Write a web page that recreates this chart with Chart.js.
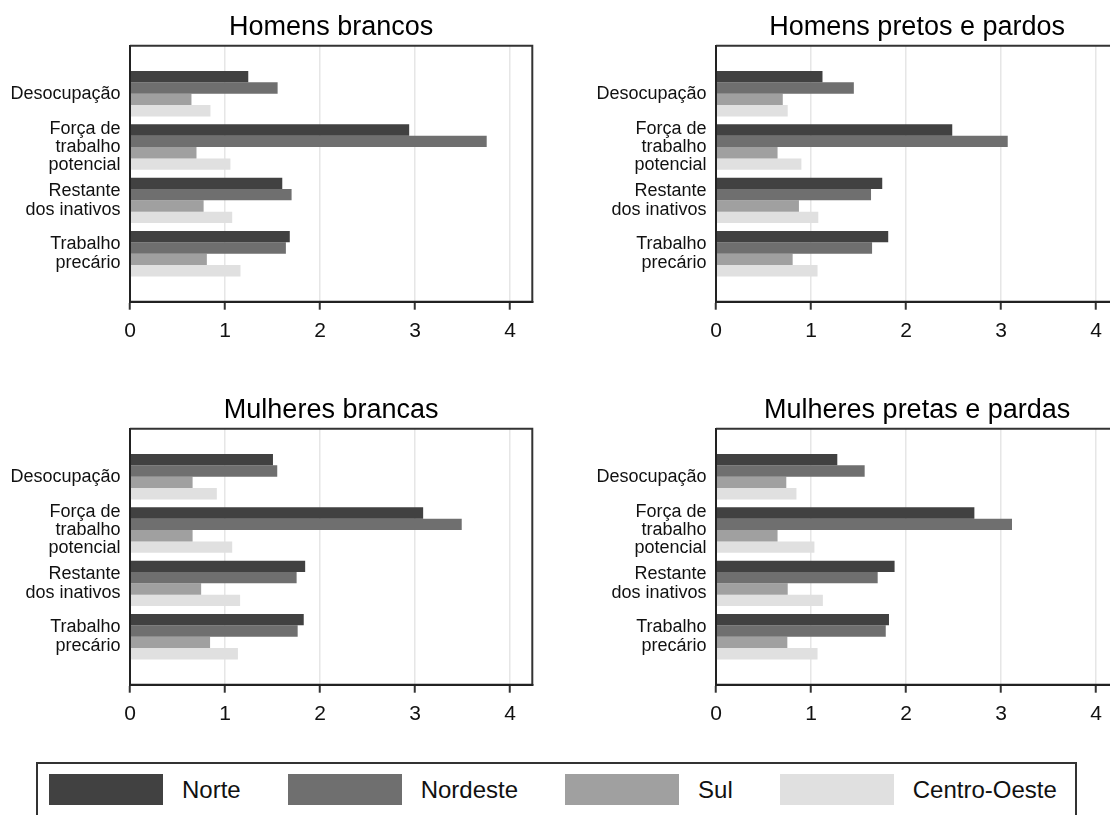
<!DOCTYPE html>
<html>
<head>
<meta charset="utf-8">
<script src="https://cdn.jsdelivr.net/npm/chart.js@4.4.1/dist/chart.umd.min.js"></script>
<style>
  html, body { margin: 0; padding: 0; background: #fff; overflow: hidden; width: 1110px; height: 815px; }
  .panel { position: absolute; width: 560px; height: 350px; }
  .legend { position: absolute; left: 36px; top: 762px; width: 1041px; height: 90px; box-sizing: border-box;
            border: 2px solid #333; display: flex; align-items: flex-start; padding: 10px 0 0 11px;
            font-family: "Liberation Sans", Arial, sans-serif; color: #111; }
  .item { display: flex; align-items: center; margin-right: 47px; }
  .sw { display: inline-block; width: 114px; height: 31px; margin-right: 19px; }
  .lb { font-size: 24px; line-height: 31px; white-space: nowrap; }
</style>
</head>
<body>
<div class="panel" style="left:0px;top:0px"><canvas id="c0" width="560" height="350"></canvas></div>
<div class="panel" style="left:586px;top:0px"><canvas id="c1" width="560" height="350"></canvas></div>
<div class="panel" style="left:0px;top:383px"><canvas id="c2" width="560" height="350"></canvas></div>
<div class="panel" style="left:586px;top:383px"><canvas id="c3" width="560" height="350"></canvas></div>
<div class="legend" id="legend"></div>
<script>
// ---- data ----
const categories = [
  ['Desocupação'],
  ['Força de', 'trabalho', 'potencial'],
  ['Restante', 'dos inativos'],
  ['Trabalho', 'precário']
];
const regions = ['Norte', 'Nordeste', 'Sul', 'Centro-Oeste'];
const panelTitles = ['Homens brancos', 'Homens pretos e pardos', 'Mulheres brancas', 'Mulheres pretas e pardas'];
const xTickValues = [0, 1, 2, 3, 4];

// Homens brancos
const hbNorte        = [1.245, 2.939, 1.603, 1.682];
const hbNordeste     = [1.554, 3.755, 1.701, 1.641];
const hbSul          = [0.647, 0.700, 0.775, 0.809];
const hbCentroOeste  = [0.847, 1.057, 1.076, 1.163];
// Homens pretos e pardos
const hpNorte        = [1.121, 2.487, 1.750, 1.813];
const hpNordeste     = [1.451, 3.071, 1.632, 1.643];
const hpSul          = [0.703, 0.648, 0.873, 0.807];
const hpCentroOeste  = [0.755, 0.899, 1.077, 1.069];
// Mulheres brancas
const mbNorte        = [1.505, 3.086, 1.844, 1.829];
const mbNordeste     = [1.550, 3.492, 1.754, 1.765];
const mbSul          = [0.659, 0.659, 0.749, 0.843];
const mbCentroOeste  = [0.914, 1.076, 1.159, 1.136];
// Mulheres pretas e pardas
const mpNorte        = [1.277, 2.720, 1.880, 1.821];
const mpNordeste     = [1.565, 3.116, 1.702, 1.787];
const mpSul          = [0.740, 0.648, 0.755, 0.751];
const mpCentroOeste  = [0.847, 1.036, 1.125, 1.069];

const panelSeries = [
  [hbNorte, hbNordeste, hbSul, hbCentroOeste],
  [hpNorte, hpNordeste, hpSul, hpCentroOeste],
  [mbNorte, mbNordeste, mbSul, mbCentroOeste],
  [mpNorte, mpNordeste, mpSul, mpCentroOeste]
];

// ---- styles ----
const regionColors = ['#414141', '#6f6f6f', '#a0a0a0', '#e0e0e0'];
const FONT = '"Liberation Sans", Arial, sans-serif';
Chart.defaults.font.family = FONT;
Chart.defaults.color = '#111';

const framePlugin = {
  id: 'frame',
  afterDatasetsDraw(chart) {
    const {ctx, chartArea: a} = chart;
    ctx.save();
    ctx.strokeStyle = '#333';
    ctx.lineWidth = 2;
    ctx.beginPath();
    ctx.moveTo(a.left, a.top);
    ctx.lineTo(a.right, a.top);
    ctx.lineTo(a.right, a.bottom);
    ctx.stroke();
    ctx.strokeStyle = '#222';
    ctx.beginPath();
    ctx.moveTo(a.left, a.top);
    ctx.lineTo(a.left, a.bottom);
    ctx.lineTo(a.right, a.bottom);
    ctx.stroke();
    ctx.restore();
  }
};

function makeChart(id, title, series) {
  const datasets = regions.map((r, k) => ({
    label: r,
    data: series[k].map((v, i) => ({x: v, y: i})),
    backgroundColor: regionColors[k],
    borderWidth: 0,
    categoryPercentage: 0.852,
    barPercentage: 1.0
  }));
  return new Chart(document.getElementById(id), {
    type: 'bar',
    data: {datasets},
    options: {
      indexAxis: 'y',
      responsive: false,
      animation: false,
      events: [],
      layout: {padding: {top: 0, left: 10, right: 27.7, bottom: 0}},
      plugins: {
        legend: {display: false},
        tooltip: {enabled: false},
        title: {
          display: true, text: title, fullSize: false, color: '#000',
          font: {size: 27, weight: 'normal', family: FONT, lineHeight: 1.2},
          padding: {top: 11.4, bottom: 1.9}
        }
      },
      scales: {
        x: {
          type: 'linear', min: 0, max: 4.235,
          afterBuildTicks: (s) => { s.ticks = xTickValues.map(v => ({value: v})); },
          afterFit: (s) => { s.height = 48.3; },
          ticks: {stepSize: 1, includeBounds: false, font: {size: 21, family: FONT}, color: '#111', padding: 8.5},
          grid: {
            color: (c) => (c.tick && c.tick.value === 0) ? 'rgba(0,0,0,0)' : '#e6e6e6',
            lineWidth: 1.5, tickColor: '#333', tickLength: 8, tickWidth: 2, drawTicks: true
          },
          border: {display: true, color: '#222', width: 2}
        },
        y: {
          type: 'linear', reverse: true, min: -0.9, max: 3.9, offset: false,
          afterBuildTicks: (s) => { s.ticks = categories.map((c, i) => ({value: i})); },
          afterFit: (s) => { s.width = 120; },
          ticks: {
            stepSize: 1, includeBounds: false, padding: 9.5, color: '#111',
            font: {size: 18, family: FONT, lineHeight: 1.02},
            callback: (v) => Number.isInteger(v) && categories[v] ? categories[v] : ''
          },
          grid: {display: false, drawTicks: false, offset: false},
          border: {display: true, color: '#222', width: 2}
        }
      }
    },
    plugins: [framePlugin]
  });
}

panelTitles.forEach((t, p) => makeChart('c' + p, t, panelSeries[p]));

// ---- legend ----
const leg = document.getElementById('legend');
regions.forEach((r, i) => {
  const item = document.createElement('div');
  item.className = 'item';
  const sw = document.createElement('span');
  sw.className = 'sw';
  sw.style.background = regionColors[i];
  const lb = document.createElement('span');
  lb.className = 'lb';
  lb.textContent = r;
  item.appendChild(sw);
  item.appendChild(lb);
  leg.appendChild(item);
});
</script>
</body>
</html>
